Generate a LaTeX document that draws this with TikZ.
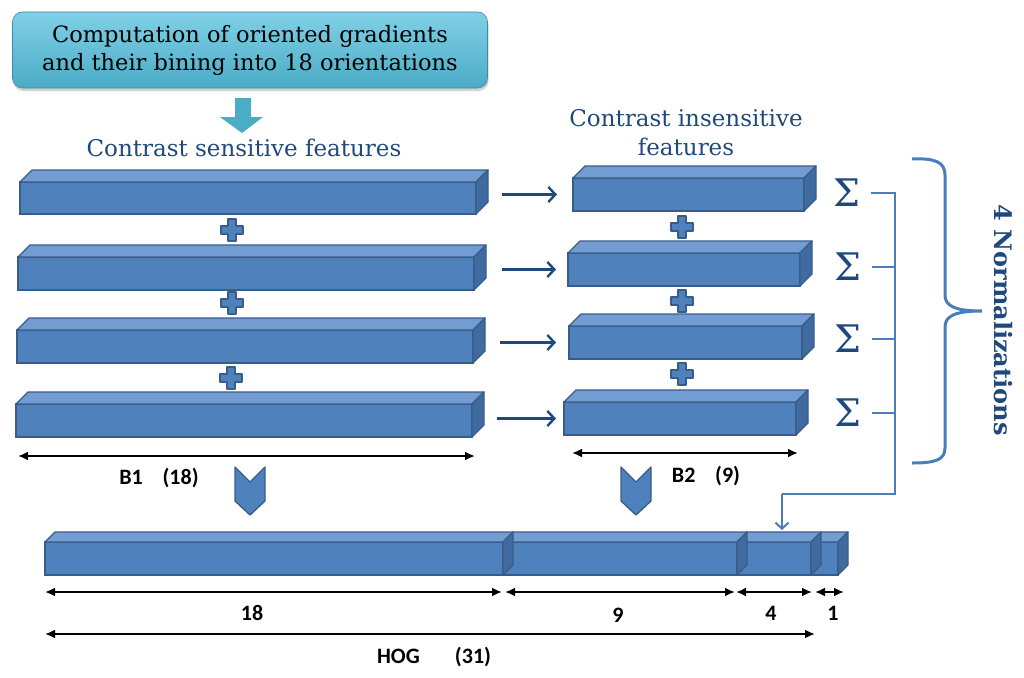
\documentclass[tikz,border=0pt]{standalone}
\usepackage{fontspec}
\newfontfamily\carl{Carlito}
\newfontfamily\dvs{DejaVu Serif}
\usetikzlibrary{arrows.meta,shadows,calc}
\definecolor{barfront}{HTML}{4F81BD}
\definecolor{bartop}{HTML}{739DD2}
\definecolor{barside}{HTML}{3F6BA1}
\definecolor{barborder}{HTML}{385D8A}
\definecolor{navy}{HTML}{1F497D}
\definecolor{brkblue}{HTML}{4A7EBB}
\definecolor{cyantop}{HTML}{80D0E6}
\definecolor{cyanbot}{HTML}{4BACC6}
\definecolor{cyanarrow}{HTML}{4BACC6}
\tikzset{
 front/.style={draw=barborder, fill=barfront, line width=1.3pt, inner sep=0pt, outer sep=0pt},
 topf/.style={draw=barborder, fill=bartop, line width=1.3pt, line join=round},
 sidef/.style={draw=barborder, fill=barside, line width=1.3pt, line join=round},
 plusst/.style={draw=barborder, fill=barfront, line width=1.2pt, line join=round},
 chev/.style={draw=barborder, fill=barfront, line width=1.3pt, line join=round},
 conn/.style={draw=navy, line width=2.4pt, -{Straight Barb[length=7pt,width=15pt]}},
 dim/.style={black, line width=2.2pt, {Latex[length=10pt,width=9pt]}-{Latex[length=10pt,width=9pt]}},
 brk/.style={draw=brkblue, line width=2pt},
 lbl/.style={font=\carl\bfseries\fontsize{22}{26}\selectfont, inner sep=0pt, text=black},
 heading/.style={font=\dvs\fontsize{23}{29}\selectfont, text=navy, align=center, inner sep=0pt},
 sig/.style={font=\dvs\fontsize{38}{38}\selectfont, text=navy, inner sep=0pt},
 titlebox/.style={rounded corners=10pt, top color=cyantop, bottom color=cyanbot,
   draw=cyanbot!80!black, line width=0.6pt, minimum width=475pt, minimum height=76pt,
   align=center, font=\dvs\fontsize{22.5}{28}\selectfont,
   drop shadow={shadow xshift=1pt, shadow yshift=-3pt, opacity=0.35}},
}
\newcommand\drawbar[6]{%
 \node[front, minimum width={#4-#2}, minimum height={#5-#3}] (#1) at ({(#2+#4)/2},{(#3+#5)/2}) {};
 \draw[topf] (#1.north west) -- ([shift={(#6,-#6)}]#1.north west) -- ([shift={(#6,-#6)}]#1.north east) -- (#1.north east) -- cycle;
 \draw[sidef] (#1.north east) -- ([shift={(#6,-#6)}]#1.north east) -- ([shift={(#6,-#6)}]#1.south east) -- (#1.south east) -- cycle;
}
\newcommand\plusat[2]{%
 \draw[plusst, shift={(#1,#2)}] (-4,-11) -- (4,-11) -- (4,-4) -- (11,-4) -- (11,4) -- (4,4) -- (4,11) -- (-4,11) -- (-4,4) -- (-11,4) -- (-11,-4) -- (-4,-4) -- cycle;
}
\newcommand\chevat[1]{%
 \draw[chev, shift={(#1,0)}] (-15,467) -- (0,482) -- (15,467) -- (15,501) -- (0,515) -- (-15,501) -- cycle;
}
\begin{document}
\begin{tikzpicture}[x=1pt,y=-1pt]
\useasboundingbox (0,0) rectangle (1024,677);
\fill[white] (0,0) rectangle (1024,677);

% title
\node[titlebox] (title) at (250,50) {Computation of oriented gradients\\and their bining into 18 orientations};
\fill[cyanarrow] (235,98) -- (251,98) -- (251,117) -- (263,117) -- (242,133) -- (220,117) -- (235,117) -- cycle;

\node[heading] (hsens) at (244,148) {Contrast sensitive features};
\node[heading] (hins) at (686,133) {Contrast insensitive\\features};

% left bars
\drawbar{L1}{20}{182}{476}{214}{12}
\drawbar{L2}{18}{257}{474}{290}{12}
\drawbar{L3}{17}{330}{473}{363}{12}
\drawbar{L4}{16}{404}{472}{437}{12}
\plusat{232}{230}
\plusat{232}{303}
\plusat{231}{378}

% right bars
\drawbar{R1}{573}{178}{804}{211}{12}
\drawbar{R2}{568}{253}{800}{286}{12}
\drawbar{R3}{569}{326}{802}{359}{12}
\drawbar{R4}{564}{402}{796}{435}{12}
\plusat{682}{227}
\plusat{682}{301}
\plusat{682}{374}

% arrows left -> right
\draw[conn, shorten <=26pt, shorten >=16pt] (L1.east |- R1.west) -- (R1.west);
\draw[conn, shorten <=28pt, shorten >=12pt] (L2.east |- R2.west) -- (R2.west);
\draw[conn, shorten <=27pt, shorten >=13pt] (L3.east |- R3.west) -- (R3.west);
\draw[conn, shorten <=25pt, shorten >=8pt] (L4.east |- R4.west) -- (R4.west);

% sigmas
\node[sig] (s1) at (847,193) {Σ};
\node[sig] (s2) at (848,267) {Σ};
\node[sig] (s3) at (848,339) {Σ};
\node[sig] (s4) at (848,413) {Σ};

% HOG bar (drawn right to left)
\drawbar{seg1}{811}{542}{838}{575}{10}
\drawbar{seg4}{737}{542}{811}{575}{10}
\drawbar{seg9}{503}{542}{737}{575}{10}
\drawbar{seg18}{45}{542}{503}{575}{10}

% bracket lines
\coordinate (vx) at (895,0);
\coordinate (turn) at (895,494);
\coordinate (drop) at (782,494);
\coordinate (s4top) at ([yshift=12pt]seg4.north);
\draw[brk] ([xshift=10pt]s1.east) -- (s1.east -| vx) -- (turn) -- (drop)
  edge[-{Straight Barb[length=6pt,width=13pt]}] (drop |- s4top);
\draw[brk] ([xshift=10pt]s2.east) -- (s2.east -| vx);
\draw[brk] ([xshift=10pt]s3.east) -- (s3.east -| vx);
\draw[brk] ([xshift=10pt]s4.east) -- (s4.east -| vx);

% curly brace
\draw[brkblue, line width=3pt] (912,159) .. controls (935,158) and (945,162) .. (945,175) -- (945,295)
  .. controls (945,306) and (955,311) .. (982,311) .. controls (955,311) and (945,316) .. (945,327)
  -- (945,448) .. controls (945,460) and (935,463) .. (912,463);
\node[rotate=-90, font=\dvs\bfseries\fontsize{24}{26}\selectfont, text=navy, inner sep=0pt] (norm) at (1003,320) {4 Normalizations};

% chevrons
\chevat{250}
\chevat{636}

% dimension lines
\coordinate (b1l) at (18,456); \coordinate (b1r) at (475,456);
\draw[dim] (b1l) -- (b1r);
\node[lbl] (b1) at (159,478) {B1\hspace{0.9em}(18)};
\coordinate (b2l) at (572,453); \coordinate (b2r) at (798,453);
\draw[dim] (b2l) -- (b2r);
\node[lbl] (b2) at (706,476) {B2\hspace{0.9em}(9)};

\coordinate (dy) at (0,592);
\draw[dim] (seg18.west |- dy) -- ([xshift=-1pt]seg18.east |- dy);
\draw[dim] ([xshift=2pt]seg9.west |- dy) -- ([xshift=-2pt]seg9.east |- dy);
\draw[dim] ([xshift=-1pt]seg4.west |- dy) -- ([xshift=1pt]seg4.east |- dy);
\coordinate (oner) at (844,592);
\draw[dim] ([xshift=4pt]seg1.west |- dy) -- (oner);
\node[lbl] (n18) at (252,613) {18};
\node[lbl] (n9) at (618,615) {9};
\node[lbl] (n4) at (771,613) {4};
\node[lbl] (n1) at (833,613) {1};

\coordinate (hy) at (0,634);
\coordinate (hr) at (815,634);
\draw[dim] (seg18.west |- hy) -- (hr);
\node[lbl] (hog) at (434,657) {HOG\hspace{1.6em}(31)};
\end{tikzpicture}
\end{document}
